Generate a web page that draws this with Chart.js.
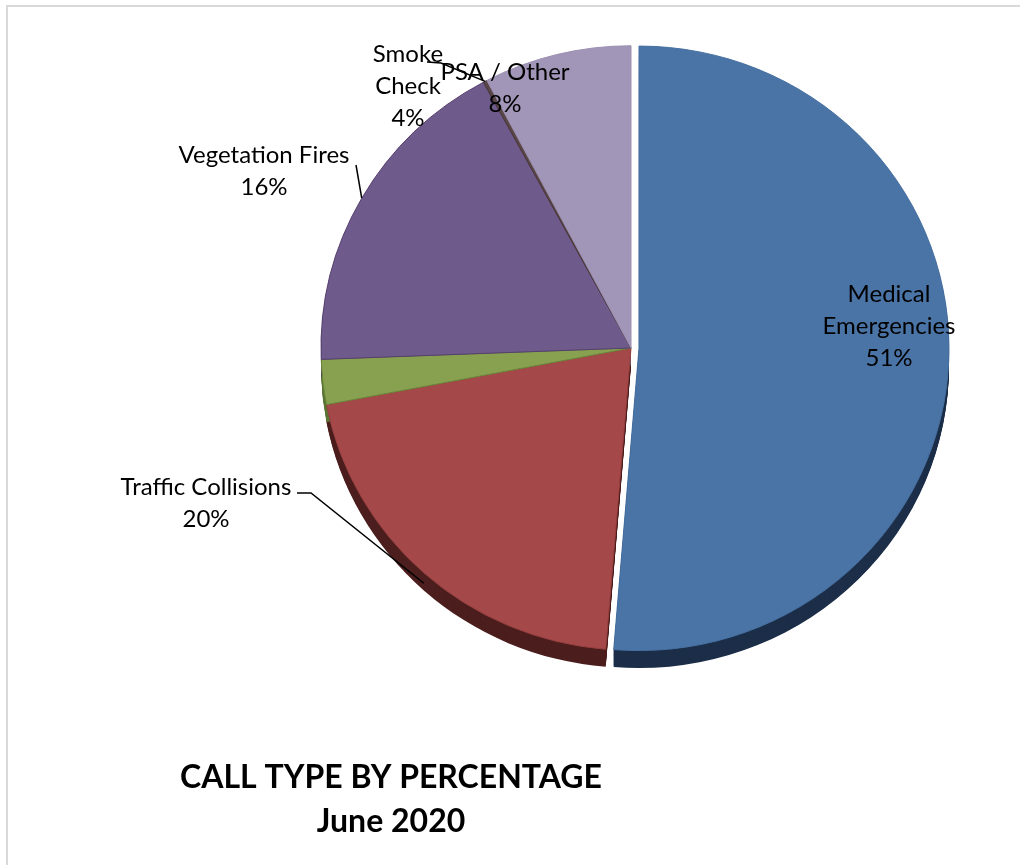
<!DOCTYPE html>
<html>
<head>
<meta charset="utf-8">
<script src="https://cdn.jsdelivr.net/npm/chart.js@4.4.1/dist/chart.umd.min.js"></script>
<style>
    html, body { margin: 0; padding: 0; background: #fff; }
    #wrap { position: relative; width: 1020px; height: 865px; overflow: hidden; }
    #frame { position: absolute; left: 6px; top: 5px; width: 1100px; height: 900px;
             border-top: 2px solid #d9d9d9; border-left: 2px solid #d9d9d9; }
    canvas { display: block; position: relative; }
</style>
</head>
<body>
<div id="wrap">
    <div id="frame"></div>
    <canvas id="pieChart" width="1020" height="865"></canvas>
</div>
<script>
// --- DATA ---
const categories = ['Medical Emergencies', 'Traffic Collisions', '', 'Vegetation Fires', 'Smoke Check', 'PSA / Other'];
const sliceValues = [51.3, 20.7, 2.4, 17.7, 0.2, 7.7];
const pctLabels = ['51%', '20%', '', '16%', '4%', '8%'];
const titleLines = ['CALL TYPE BY PERCENTAGE', 'June 2020'];

// --- STYLE ---
const topColors = ['#4a74a6', '#a5484a', '#88a150', '#6f5a8c', '#5a4646', '#a196b8'];
const edgeColors = ['#4670a1', '#963f3e', '#6a8639', '#553f6e', '#4a3838', '#9a8fb1'];
const sideColors = ['#1c2e48', '#4c1e1e', '#5c7434', '#46385a', '#3a2e2e', '#6a607e'];
const explode = [8, 0, 0, 0, 0, 0];
const DEPTH = 18;
const TILT = 0.975;       // pie top is a slightly flattened ellipse
const LINE_H = 32;
const LABEL_FONT = '24px Lato';

// label block centre relative to pie centre, leader anchors relative to label centre
const labelLayout = [
    { dx: 258, dy: -22, wrap: true },
    { dx: -425, dy: 155, leader: [[91, -10], [105, -10]] },
    null,
    { dx: -367, dy: -177, leader: [[92, -6]] },
    { dx: -223, dy: -262, wrap: true, leader: [[19, -24], [33, -23]] },
    { dx: -126, dy: -260 }
];

function sliceGeom(arc) {
    const p = arc.getProps(['x', 'y', 'startAngle', 'endAngle', 'outerRadius'], true);
    return { x: p.x, y: p.y, start: p.startAngle, end: p.endAngle, r: p.outerRadius,
             mid: (p.startAngle + p.endAngle) / 2 };
}

function pieCenter(chart) {
    const a = chart.chartArea;
    return { x: (a.left + a.right) / 2, y: (a.top + a.bottom) / 2 };
}

// pulls exploded slices out along their middle angle
const explodePlugin = {
    id: 'explodeSlices',
    afterDatasetUpdate(chart, args) {
        args.meta.data.forEach((arc, i) => {
            if (!explode[i]) return;
            const mid = (arc.startAngle + arc.endAngle) / 2;
            arc.x += Math.cos(mid) * explode[i];
            arc.y += Math.sin(mid) * explode[i];
        });
    }
};

// 3D side of the pie: stacked copies of each slice shifted down, then flatten
const pieSide = {
    id: 'pieSide',
    beforeDatasetsDraw(chart) {
        const ctx = chart.ctx;
        const c = pieCenter(chart);
        ctx.save();
        ctx.translate(c.x, c.y);
        ctx.scale(1, TILT);
        ctx.translate(-c.x, -c.y);
        chart.getDatasetMeta(0).data.forEach((arc, i) => {
            const g = sliceGeom(arc);
            ctx.fillStyle = sideColors[i];
            for (let d = DEPTH; d > 0; d--) {
                ctx.beginPath();
                ctx.moveTo(g.x, g.y + d);
                ctx.arc(g.x, g.y + d, g.r, g.start, g.end);
                ctx.closePath();
                ctx.fill();
            }
        });
    },
    afterDatasetsDraw(chart) {
        chart.ctx.restore();
    }
};

const sliceLabels = {
    id: 'sliceLabels',
    afterDatasetsDraw(chart) {
        const ctx = chart.ctx;
        const c = pieCenter(chart);
        const arcs = chart.getDatasetMeta(0).data;
        ctx.save();
        ctx.font = LABEL_FONT;
        ctx.fillStyle = '#000';
        ctx.textAlign = 'center';
        ctx.textBaseline = 'middle';
        labelLayout.forEach((lay, i) => {
            if (!lay) return;
            const g = sliceGeom(arcs[i]);
            const lx = c.x + lay.dx, ly = c.y + lay.dy;
            const lines = (lay.wrap ? categories[i].split(' ') : [categories[i]]).concat(pctLabels[i]);
            const y0 = ly - (lines.length - 1) * LINE_H / 2;
            lines.forEach((t, k) => ctx.fillText(t, lx, y0 + k * LINE_H));

            if (lay.leader) {
                const ex = g.x + Math.cos(g.mid) * g.r;
                let ey = g.y + Math.sin(g.mid) * g.r + Math.max(0, Math.sin(g.mid)) * DEPTH * 0.8;
                ey = c.y + (ey - c.y) * TILT;
                ctx.beginPath();
                ctx.strokeStyle = '#000';
                ctx.lineWidth = 1.5;
                lay.leader.forEach((pt, k) => {
                    if (k === 0) ctx.moveTo(lx + pt[0], ly + pt[1]);
                    else ctx.lineTo(lx + pt[0], ly + pt[1]);
                });
                ctx.lineTo(ex, ey);
                ctx.stroke();
            }
        });

        // title under the pie
        ctx.font = 'bold 32px Lato';
        ctx.fillText(titleLines[0], 391, 778);
        ctx.fillText(titleLines[1], 391, 822);
        ctx.restore();
    }
};

const ctx = document.getElementById('pieChart').getContext('2d');
new Chart(ctx, {
    type: 'pie',
    data: {
        labels: categories,
        datasets: [{
            data: sliceValues,
            backgroundColor: topColors,
            borderColor: edgeColors,
            borderWidth: 1
        }]
    },
    options: {
        responsive: false,
        animation: false,
        radius: 310,
        layout: { padding: { left: 315, right: 73, top: 40, bottom: 209 } },
        plugins: { legend: { display: false }, tooltip: { enabled: false }, title: { display: false } }
    },
    plugins: [explodePlugin, pieSide, sliceLabels]
});
</script>
</body>
</html>
